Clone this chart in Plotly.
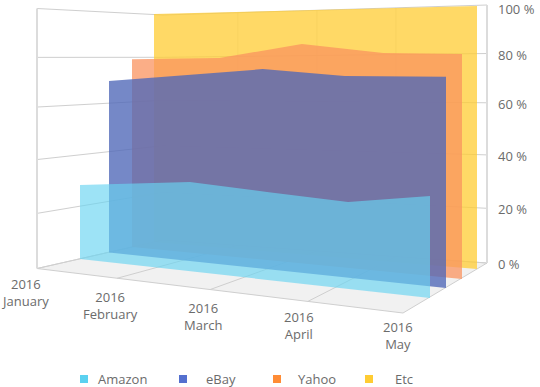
import numpy as np
import plotly.graph_objects as go

# ---------- data (percent share per month, stacked to 100 %) ----------
years = ["2016", "2016", "2016", "2016", "2016"]
months = ["January", "February", "March", "April", "May"]
amazon = [28.3, 32.5, 30.9, 29.5, 33.5]
ebay = [41.5, 40.3, 45.0, 44.1, 40.5]
yahoo = [9.2, 6.9, 9.8, 8.4, 7.6]
etc = [21.0, 20.3, 14.3, 18.0, 18.4]
value_ticks = [0, 20, 40, 60, 80, 100]
series_names = ["Amazon", "eBay", "Yahoo", "Etc"]

# ---------- styling ----------
base_colors = ["#5BD1F0", "#5470CF", "#FF8C35", "#FFCC33"]
fill_colors = ["rgba(105,212,241,0.65)", "rgba(80,104,184,0.79)",
               "rgba(250,147,95,0.75)", "rgba(255,204,51,0.75)"]
grid_color = "#cfcfcf"
text_color = "#6b6b6b"
font_family = "Open Sans"

# ---------- hand-fitted view projection (depth stations: wall, 4 series, wall) ----------
left_x = [37, 80, 109, 132, 154, 163]
left_y = [268.5, 259, 252.5, 247, 242, 240]
right_x = [403, 430, 446, 462, 477, 487]
right_y = [313, 298, 288, 279, 269, 263]
left_h = [260, 248, 240, 234, 228, 225]
right_h = [305, 290, 280, 272, 263, 258]
height_curve = [0, 0.212, 0.419, 0.621, 0.812, 1.0]
series_fracs = [[0, 0.314, 0.54, 0.766, 1],
                [0, 0.214, 0.456, 0.699, 1],
                [0, 0.265, 0.515, 0.761, 1],
                [0, 0.25, 0.5, 0.75, 1]]
front_fracs = [0, 0.219, 0.473, 0.74, 1]
back_fracs = [0, 0.231, 0.475, 0.719, 1]


def project(station, frac, value):
    frac = np.asarray(frac, dtype=float)
    fx = left_x[station] + frac * (right_x[station] - left_x[station])
    fy = left_y[station] + frac * (right_y[station] - left_y[station])
    h = left_h[station] + frac * (right_h[station] - left_h[station])
    return fx, fy - h * np.interp(value, value_ticks, height_curve)


def line(fig, xs, ys, color=grid_color, width=1):
    fig.add_trace(go.Scatter(x=list(xs), y=list(ys), mode="lines", showlegend=False,
                             hoverinfo="skip", line=dict(color=color, width=width)))


fig = go.Figure()

# floor
fl = [project(0, 0, 0), project(0, 1, 0), project(5, 1, 0), project(5, 0, 0)]
fig.add_trace(go.Scatter(x=[p[0] for p in fl] + [fl[0][0]], y=[p[1] for p in fl] + [fl[0][1]],
                         mode="lines", fill="toself", fillcolor="#f1f1f1", showlegend=False,
                         hoverinfo="skip", line=dict(color=grid_color, width=1)))
for f0, f1 in zip(front_fracs[1:-1], back_fracs[1:-1]):
    a, b = project(0, f0, 0), project(5, f1, 0)
    line(fig, [a[0], b[0]], [a[1], b[1]])
    t = project(5, f1, 100)
    line(fig, [b[0], t[0]], [b[1], t[1]], color="#e4e4e4")

# walls
for v in value_ticks:
    a, b, c = project(0, 0, v), project(5, 0, v), project(5, 1, v)
    line(fig, [a[0], b[0], c[0]], [a[1], b[1], c[1]])
for st, fr in ((0, 0), (5, 1)):
    a, b = project(st, fr, 0), project(st, fr, 100)
    line(fig, [a[0], b[0]], [a[1], b[1]], color="#dcdcdc", width=2)

# series, back to front
tops = np.cumsum([amazon, ebay, yahoo, etc], axis=0)
for i in (3, 2, 1, 0):
    st = i + 1
    xs, ys = project(st, series_fracs[i], tops[i])
    x0, y0 = project(st, np.array([1.0, 0.0]), 0)
    fig.add_trace(go.Scatter(x=list(xs) + list(x0) + [xs[0]], y=list(ys) + list(y0) + [ys[0]],
                             mode="lines", fill="toself", fillcolor=fill_colors[i],
                             line=dict(width=0), name=series_names[i], showlegend=False))

# value labels
annotations = []
for v in value_ticks:
    p = project(5, 1, v)
    annotations.append(dict(x=495.5, y=max(float(p[1]) + 1, 9), text=f"{v} %", xanchor="left", yanchor="middle",
                            showarrow=False, font=dict(family=font_family, size=13, color=text_color)))

# category labels
label_x = [25, 110, 203, 299, 398]
label_y = [292.5, 305, 316, 325, 335]
for lx, ly, yr, m in zip(label_x, label_y, years, months):
    annotations.append(dict(x=lx, y=ly, text=f"{yr}<br>{m}", align="center", xanchor="center",
                            yanchor="middle", showarrow=False,
                            font=dict(family=font_family, size=13, color=text_color)))

# legend
legend_mark_x = [84, 183, 277, 369]
legend_text_x = [122, 221, 317, 404]
for name, color, mx, tx in zip(series_names, base_colors, legend_mark_x, legend_text_x):
    fig.add_trace(go.Scatter(x=[mx], y=[379], mode="markers", showlegend=False, hoverinfo="skip",
                             marker=dict(symbol="square", size=8, color=color)))
    annotations.append(dict(x=tx, y=379, text=name, xanchor="center", yanchor="middle", showarrow=False,
                            font=dict(family=font_family, size=13, color=text_color)))

fig.update_layout(width=540, height=387, margin=dict(l=0, r=0, t=0, b=0),
                  paper_bgcolor="white", plot_bgcolor="white", showlegend=False,
                  annotations=annotations,
                  xaxis=dict(range=[0, 540], visible=False, fixedrange=True),
                  yaxis=dict(range=[387, 0], visible=False, fixedrange=True))
fig.write_html("out.html", config=dict(displayModeBar=False),
               post_script="document.body.style.margin='0';")
